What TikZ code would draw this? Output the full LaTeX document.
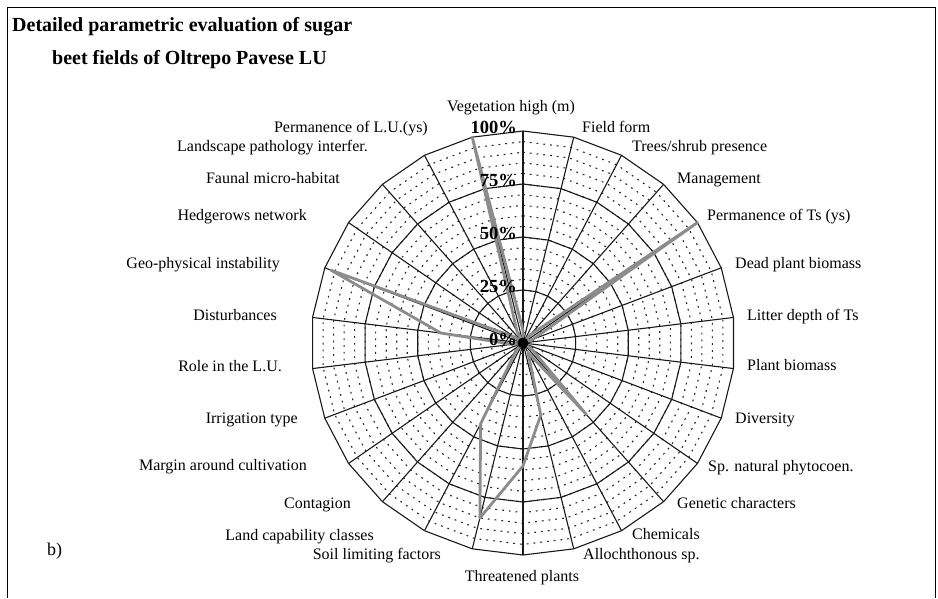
\documentclass[tikz,border=0pt]{standalone}
\usepackage{fontspec}
\setmainfont{Liberation Serif}
\usetikzlibrary{calc,positioning}

\begin{document}
\begin{tikzpicture}[x=1pt,y=-1pt,
  lab/.style={font=\fontsize{16}{18}\selectfont, inner sep=0pt},
  pct/.style={font=\bfseries\fontsize{18.5}{20}\selectfont, anchor=mid east, inner sep=0pt},
  ring/.style={line width=1.1pt, black!90},
  minor/.style={line width=1.1pt, black!85, dash pattern=on 1.8pt off 5pt},
  series/.style={line width=2.8pt, black!45, line join=round}]
  \useasboundingbox (0,0) rectangle (938,598);
  % frame round the panel
  \draw[line width=0.9pt] (7,598) -- (7,7) -- (935,7) -- (935,598);
  \coordinate (c) at (523,343);
  \def\R{212}
  % ends of the 26 axes, clockwise from the top
  \foreach \i in {0,...,25}
    \coordinate (v\i) at ($(c)+(\i*360/26-90:\R)$);
  % dotted rings every 5%
  \foreach \k in {1,...,19}
    \draw[minor] ($(c)!\k/20!(v0)$) \foreach \i in {1,...,25} {-- ($(c)!\k/20!(v\i)$)} -- cycle;
  % solid rings at 25, 50, 75, 100%
  \foreach \k in {1,...,4}
    \draw[ring] ($(c)!\k/4!(v0)$) \foreach \i in {1,...,25} {-- ($(c)!\k/4!(v\i)$)} -- cycle;
  \foreach \i in {0,...,25}
    \draw[ring] (c) -- (v\i);
  % values of the sugar beet fields
  \foreach \val [count=\i from 0] in {6,0,0,5,100,5,0,0,0,5,45,5,35,58,85,43,5,0,0,5,39,97,5,0,6,100}
    \coordinate (d\i) at ($(c)!\val/100!(v\i)$);
  \draw[series] (d0) \foreach \i in {1,...,25} {-- (d\i)} -- cycle;
  \fill (c) circle (5.5);
  % scale
  \foreach \p in {0,25,50,75,100}
    \node[pct] (p\p) at ($(c)+(-6,-\p*2.12)$) {\p\%};
  % axis labels
  \node[lab] (l0) at (511,108) {Vegetation high (m)};
  \node[lab] (l13) at (522,578) {Threatened plants};
  \foreach \x/\y/\lab [count=\i] in {582/130/Field form, 632/149/{Trees/shrub presence},
      677/181/Management, 707/218/Permanence of Ts (ys), 735/266/Dead plant biomass,
      747/318/Litter depth of Ts, 747/368/Plant biomass, 735/421/Diversity,
      708/469/Sp. natural phytocoen., 677/506/Genetic characters, 632/537/Chemicals,
      583/557/Allochthonous sp.}
    \node[lab, anchor=mid west] (l\i) at (\x,\y) {\lab};
  \foreach \x/\y/\lab [count=\i from 14] in {441/557/Soil limiting factors,
      374/538/Land capability classes, 351/506/Contagion, 307/468/Margin around cultivation,
      298/421/Irrigation type, 282/369/Role in the L.U., 277/318/Disturbances,
      280/266/Geo-physical instability, 307/218/Hedgerows network,
      340/181/Faunal micro-habitat, 368/149/Landscape pathology interfer.,
      428/130/Permanence of L.U.(ys)}
    \node[lab, anchor=mid east] (l\i) at (\x,\y) {\lab};
  % title and panel letter
  \node[anchor=mid west, inner sep=0pt, font=\bfseries\fontsize{20}{24}\selectfont] (title1) at (12,29) {Detailed parametric evaluation of sugar};
  \node[anchor=mid west, inner sep=0pt, font=\bfseries\fontsize{20}{24}\selectfont] (title2) at (52,62) {beet fields of Oltrepo Pavese LU};
  \node[lab, anchor=mid west, font=\fontsize{18}{20}\selectfont] (panel) at (47,553) {b)};
\end{tikzpicture}
\end{document}
